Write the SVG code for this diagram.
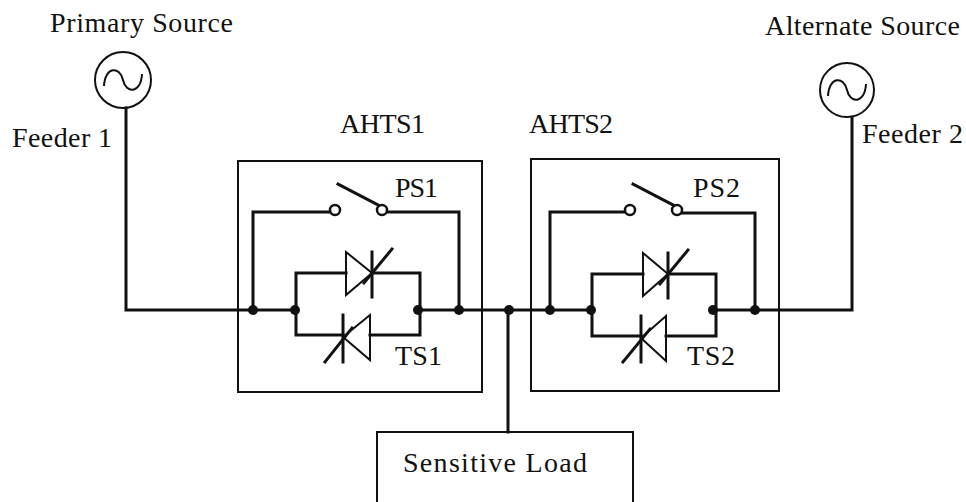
<svg xmlns="http://www.w3.org/2000/svg" width="966" height="502" viewBox="0 0 966 502">
<style>
text{font-family:"Liberation Serif","Times New Roman",serif;font-size:28px;fill:#111}
.w{fill:none;stroke:#111;stroke-width:3;stroke-linejoin:miter;stroke-linecap:square}
.b{fill:none;stroke:#111;stroke-width:2}
.dot{fill:#111}
.sw{fill:#fff;stroke:#111;stroke-width:2.5}
</style>
<rect width="966" height="502" fill="#fff"/>
<g id="primary-source">
<circle cx="123" cy="80" r="28" class="b" stroke-width="2.5"/>
<path d="M104,86 C105,66 120,66 123,80 C126,94 141,94 142,74" class="b" stroke-width="2.8"/>
<text x="50" y="32" textLength="183" lengthAdjust="spacing">Primary Source</text>
<text x="12" y="147" textLength="100" lengthAdjust="spacing">Feeder 1</text>
</g>
<g id="alternate-source">
<circle cx="847" cy="90" r="27" class="b" stroke-width="2.5"/>
<path d="M828,96 C829,76 844,76 847,90 C850,104 865,104 866,84" class="b" stroke-width="2.8"/>
<text x="765" y="35" textLength="195" lengthAdjust="spacing">Alternate Source</text>
<text x="862" y="143" textLength="101" lengthAdjust="spacing">Feeder 2</text>
</g>
<g id="ahts1">
<rect x="238" y="161" width="244" height="231" class="b"/>
<text x="340" y="133" textLength="85" lengthAdjust="spacing">AHTS1</text>
<text x="395" y="197" textLength="43" lengthAdjust="spacing">PS1</text>
<text x="395" y="365" textLength="47" lengthAdjust="spacing">TS1</text>
<path d="M253,310 V212 H330 M387,212 H459 V310" class="w"/>
<line x1="338" y1="184" x2="378" y2="205" class="w" stroke-width="2.5"/>
<circle cx="335" cy="210" r="5" class="sw"/>
<circle cx="382" cy="210" r="5" class="sw"/>
<path d="M296,310 V273 H346 M372,273 H420 V335 H370 M343,335 H296 V310" class="w"/>
<path d="M346,252 L372,273 L346,295 Z" class="b" stroke-width="2.5"/>
<line x1="372" y1="252" x2="372" y2="297" class="w"/>
<line x1="364" y1="283" x2="392" y2="249" class="w" stroke-width="2.5"/>
<path d="M370,315 L343,337 L370,360 Z" class="b" stroke-width="2.5"/>
<line x1="343" y1="315" x2="343" y2="362" class="w"/>
<line x1="325" y1="362" x2="352" y2="328" class="w" stroke-width="2.5"/>
</g>
<g id="ahts2">
<rect x="531" y="159" width="248" height="232" class="b"/>
<text x="529" y="133" textLength="84" lengthAdjust="spacing">AHTS2</text>
<text x="693" y="197" textLength="47" lengthAdjust="spacing">PS2</text>
<text x="687" y="365" textLength="48" lengthAdjust="spacing">TS2</text>
<path d="M550,310 V212 H625 M682,213 H755 V310" class="w"/>
<line x1="633" y1="184" x2="673" y2="205" class="w" stroke-width="2.5"/>
<circle cx="630" cy="210" r="5" class="sw"/>
<circle cx="677" cy="210" r="5" class="sw"/>
<path d="M592,310 V274 H643 M668,274 H716 V336 H666 M641,336 H592 V310" class="w"/>
<path d="M643,253 L668,274 L643,296 Z" class="b" stroke-width="2.5"/>
<line x1="668" y1="253" x2="668" y2="298" class="w"/>
<line x1="660" y1="284" x2="688" y2="250" class="w" stroke-width="2.5"/>
<path d="M666,316 L641,338 L666,361 Z" class="b" stroke-width="2.5"/>
<line x1="641" y1="316" x2="641" y2="362" class="w"/>
<line x1="623" y1="362" x2="650" y2="329" class="w" stroke-width="2.5"/>
</g>
<g id="sensitive-load">
<path d="M377,502 V432 H633 V502" class="b" stroke-width="2.5"/>
<text x="403" y="472" textLength="184" lengthAdjust="spacing">Sensitive Load</text>
</g>
<g id="connectors">
<path d="M126,108 V310 H253" class="w"/>
<path d="M253,310 H296 M420,310 H550 M550,310 H592 M716,310 H852 V117" class="w"/>
<line x1="508" y1="310" x2="508" y2="432" class="w"/>
<circle cx="253" cy="310" r="5" class="dot"/>
<circle cx="295" cy="310" r="5" class="dot"/>
<circle cx="418" cy="310" r="5" class="dot"/>
<circle cx="459" cy="310" r="5" class="dot"/>
<circle cx="509" cy="310" r="5" class="dot"/>
<circle cx="550" cy="310" r="5" class="dot"/>
<circle cx="591" cy="310" r="5" class="dot"/>
<circle cx="713" cy="310" r="5" class="dot"/>
<circle cx="755" cy="310" r="5" class="dot"/>
</g>
</svg>
